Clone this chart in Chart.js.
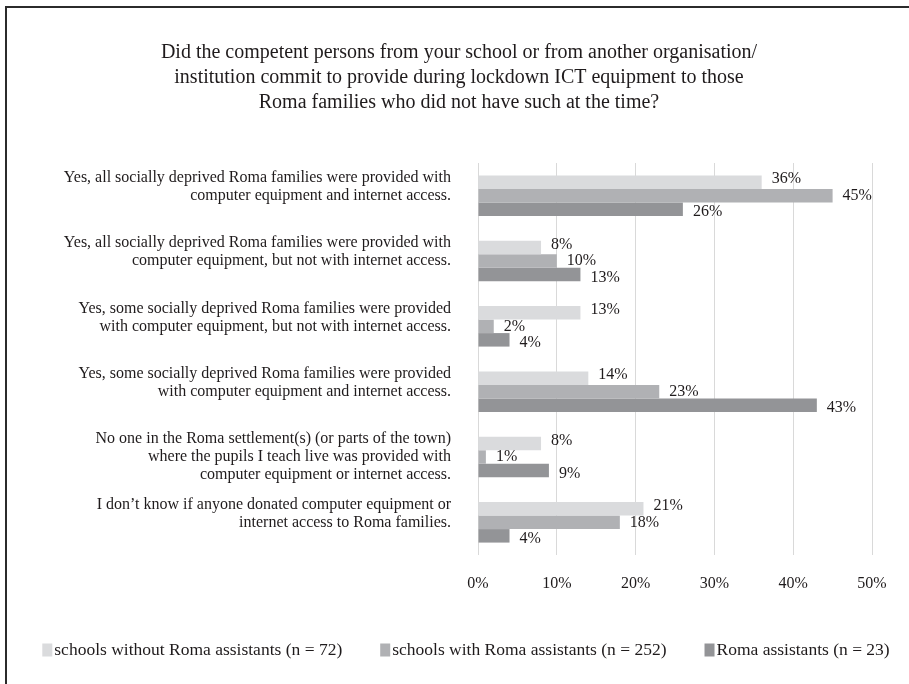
<!DOCTYPE html>
<html>
<head>
<meta charset="utf-8">
<title>ICT equipment during lockdown</title>
<script src="https://cdn.jsdelivr.net/npm/chart.js@4"></script>
<style>
  html, body { margin: 0; padding: 0; background: #fff; }
  .frame { position: relative; width: 909px; height: 684px; overflow: hidden; }
  .frame::before {
    content: '';
    position: absolute;
    left: 5px; top: 6px; right: -6px; bottom: -6px;
    border: 2px solid #2b2b2b;
    pointer-events: none;
  }
  canvas { display: block; }
</style>
</head>
<body>
<div class="frame"><canvas id="chart" width="909" height="684"></canvas></div>
<script>
const titleLines = [
  'Did the competent persons from your school or from another organisation/',
  'institution commit to provide during lockdown ICT equipment to those',
  'Roma families who did not have such at the time?',
];

const categories = [
  ['Yes, all socially deprived Roma families were provided with', 'computer equipment and internet access.'],
  ['Yes, all socially deprived Roma families were provided with', 'computer equipment, but not with internet access.'],
  ['Yes, some socially deprived Roma families were provided', 'with computer equipment, but not with internet access.'],
  ['Yes, some socially deprived Roma families were provided', 'with computer equipment and internet access.'],
  ['No one in the Roma settlement(s) (or parts of the town)', 'where the pupils I teach live was provided with', 'computer equipment or internet access.'],
  ['I don’t know if anyone donated computer equipment or', 'internet access to Roma families.'],
];

const seriesNames = [
  'schools without Roma assistants (n = 72)',
  'schools with Roma assistants (n = 252)',
  'Roma assistants (n = 23)',
];

const withoutAssistants = [36, 8, 13, 14, 8, 21];
const withAssistants = [45, 10, 2, 23, 1, 18];
const romaAssistants = [26, 13, 4, 43, 9, 4];

const xTickValues = [0, 10, 20, 30, 40, 50];

const seriesColors = ['rgb(218, 219, 221)', 'rgb(176, 177, 180)', 'rgb(147, 148, 151)'];
const textColor = '#1f1b1c';
const serif = "'Liberation Serif', 'Times New Roman', serif";

Chart.defaults.font.family = serif;
Chart.defaults.color = textColor;

// every label gets three lines so the text sits at the same height in each group
const axisLabels = categories.map((lines) => (lines.length < 3 ? [...lines, ''] : lines));

// percentage printed just past the end of each bar
const valueLabels = {
  id: 'valueLabels',
  afterDatasetsDraw(chart, args, opts) {
    const { ctx } = chart;
    ctx.save();
    ctx.font = `${opts.size}px ${serif}`;
    ctx.fillStyle = textColor;
    ctx.textAlign = 'left';
    ctx.textBaseline = 'middle';
    chart.data.datasets.forEach((ds, di) => {
      const meta = chart.getDatasetMeta(di);
      meta.data.forEach((bar, i) => {
        ctx.fillText(`${ds.data[i]}%`, bar.x + opts.offset, bar.y + (di - 1) * opts.spread);
      });
    });
    ctx.restore();
  },
};

// legend row along the bottom: small square, then the series name
const bottomLegend = {
  id: 'bottomLegend',
  afterDraw(chart, args, opts) {
    const { ctx } = chart;
    ctx.save();
    ctx.font = `${opts.size}px ${serif}`;
    ctx.textAlign = 'left';
    ctx.textBaseline = 'middle';
    const items = chart.data.datasets.map((ds) => ({
      text: ds.label,
      color: ds.backgroundColor,
      width: opts.boxWidth + opts.textGap + ctx.measureText(ds.label).width,
    }));
    const total = items.reduce((sum, it) => sum + it.width, 0) + opts.itemGap * (items.length - 1);
    let x = opts.centerX - total / 2;
    items.forEach((it) => {
      ctx.fillStyle = it.color;
      ctx.fillRect(x, opts.y - opts.boxHeight / 2, opts.boxWidth, opts.boxHeight);
      ctx.fillStyle = textColor;
      ctx.fillText(it.text, x + opts.boxWidth + opts.textGap, opts.y);
      x += it.width + opts.itemGap;
    });
    ctx.restore();
  },
};

const ctx = document.getElementById('chart').getContext('2d');

new Chart(ctx, {
  type: 'bar',
  data: {
    labels: axisLabels,
    datasets: [
      { label: seriesNames[0], data: withoutAssistants, backgroundColor: seriesColors[0] },
      { label: seriesNames[1], data: withAssistants, backgroundColor: seriesColors[1] },
      { label: seriesNames[2], data: romaAssistants, backgroundColor: seriesColors[2] },
    ],
  },
  plugins: [valueLabels, bottomLegend],
  options: {
    indexAxis: 'y',
    responsive: false,
    maintainAspectRatio: false,
    animation: false,
    datasets: {
      bar: {
        borderWidth: 0,
        categoryPercentage: 0.62,
        barPercentage: 1.0,
      },
    },
    layout: {
      padding: { left: 46, right: 37, top: 0, bottom: 52 },
    },
    scales: {
      x: {
        min: xTickValues[0],
        max: xTickValues[xTickValues.length - 1],
        afterBuildTicks: (scale) => {
          scale.ticks = xTickValues.map((value) => ({ value }));
        },
        afterFit: (scale) => {
          scale.height = 77;
        },
        ticks: {
          callback: (value) => `${value}%`,
          font: { size: 16 },
          padding: 19,
          color: textColor,
        },
        grid: { color: '#d9d9d9', lineWidth: 1, drawTicks: false },
        border: { display: false },
      },
      y: {
        afterFit: (scale) => {
          scale.width = 432;
        },
        ticks: {
          font: { size: 16, lineHeight: 1.125 },
          padding: 27,
          color: textColor,
        },
        grid: { display: false, drawTicks: false },
        border: { display: false },
      },
    },
    plugins: {
      legend: { display: false },
      tooltip: { enabled: false },
      title: {
        display: true,
        text: titleLines,
        color: textColor,
        font: { size: 20, weight: 'normal', lineHeight: 1.25 },
        padding: { top: 40, bottom: 48 },
      },
      valueLabels: { size: 16, offset: 10, spread: 3 },
      bottomLegend: {
        size: 17.5,
        y: 650,
        centerX: 466,
        boxWidth: 10,
        boxHeight: 13,
        textGap: 2,
        itemGap: 38,
      },
    },
  },
});
</script>
</body>
</html>
